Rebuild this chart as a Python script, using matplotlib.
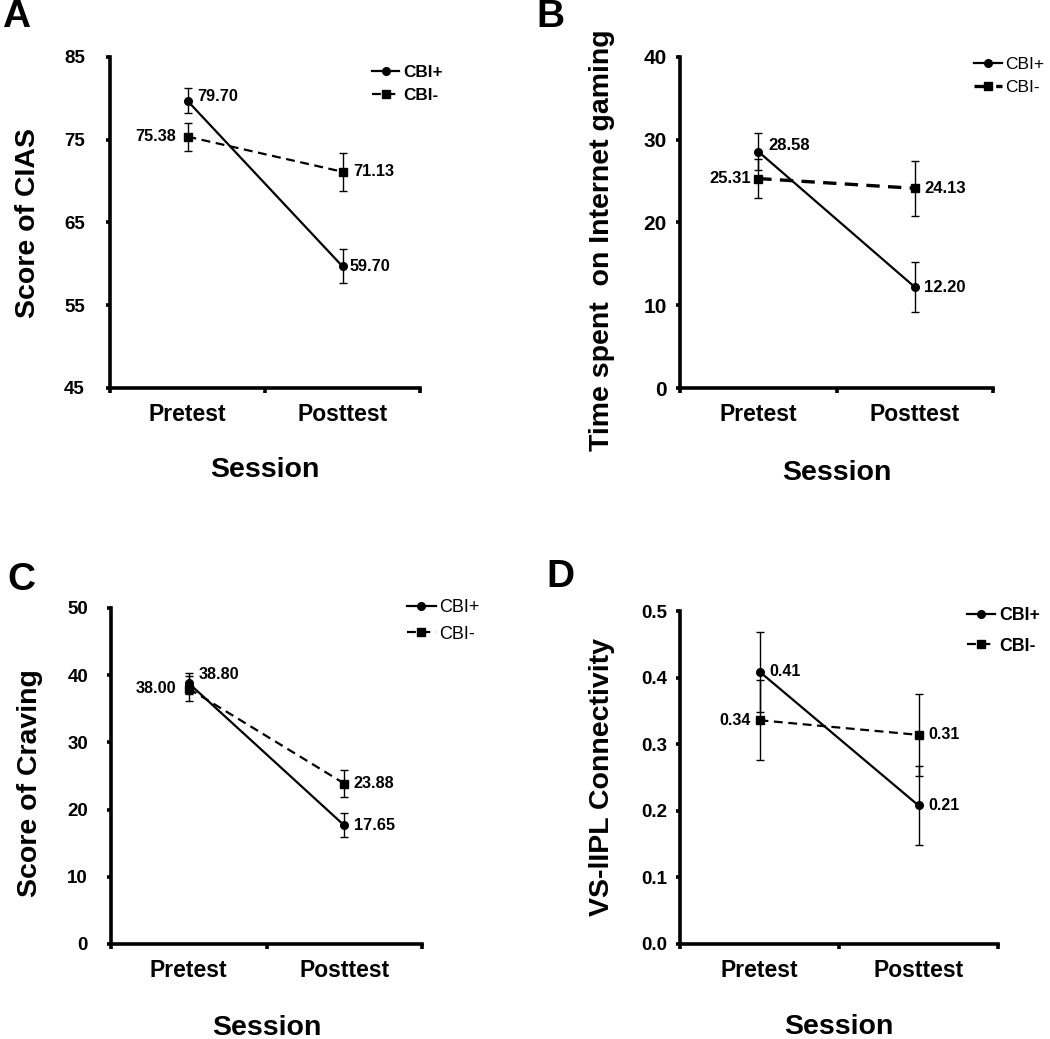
import matplotlib

matplotlib.use("Agg")
import matplotlib.pyplot as plt
import numpy as np

plt.rcParams["font.family"] = ["Liberation Sans", "DejaVu Sans"]

sessions = ["Pretest", "Posttest"]
groups = ["CBI+", "CBI-"]

# A: Score of CIAS
cias_plus = [79.70, 59.70]
cias_plus_err = [1.5, 2.05]
cias_minus = [75.38, 71.13]
cias_minus_err = [1.7, 2.3]

# B: Time spent on Internet gaming
time_plus = [28.58, 12.20]
time_plus_err = [2.2, 3.0]
time_minus = [25.31, 24.13]
time_minus_err = [2.35, 3.3]

# C: Score of Craving
crav_plus = [38.80, 17.65]
crav_plus_err = [1.6, 1.8]
crav_minus = [38.00, 23.88]
crav_minus_err = [1.9, 2.0]

# D: VS-lIPL connectivity
conn_plus = [0.409, 0.208]
conn_plus_err = [0.06, 0.06]
conn_minus = [0.336, 0.314]
conn_minus_err = [0.06, 0.062]
conn_plus_labels = ["0.41", "0.21"]
conn_minus_labels = ["0.34", "0.31"]

W, H = 1050, 1039


def px_rect(left, top, right, bottom):
    return [left / W, 1 - bottom / H, (right - left) / W, (bottom - top) / H]


def draw_panel(fig, p):
    ax = fig.add_axes(px_rect(*p["rect"]))
    x = np.array([0.5, 1.5])

    # error bars first, then lines with markers
    ax.errorbar(x, p["plus"], yerr=p["plus_err"], fmt="none", ecolor="black",
                elinewidth=1.0, capsize=3.2, capthick=1.0, zorder=3)
    ax.errorbar(x, p["minus"], yerr=p["minus_err"], fmt="none", ecolor="black",
                elinewidth=1.0, capsize=3.2, capthick=1.0, zorder=3)
    ax.plot(x, p["plus"], color="black", ls="-", lw=1.6, marker="o", ms=5.5,
            label=groups[0], zorder=4)
    ax.plot(x, p["minus"], color="black", ls=(0, (4, 2.5)), lw=p["dash_lw"],
            marker="s", ms=5.5, label=groups[1], zorder=4)

    # value labels next to the points
    for vals, labs, offs in ((p["plus"], p["plus_labels"], p["plus_off"]),
                             (p["minus"], p["minus_labels"], p["minus_off"])):
        for xi, v, lab, (dx, dy) in zip(x, vals, labs, offs):
            ax.annotate(lab, (xi, v), xytext=(dx, dy), textcoords="offset points",
                        ha="right" if dx < 0 else "left", va="center",
                        fontsize=p["val_fs"], fontweight="bold")

    ax.set_xlim(0, 2)
    ax.set_ylim(*p["ylim"])
    ax.set_yticks(p["yticks"])
    ax.set_yticklabels(p["yticklabels"])
    ax.set_xticks([0, 1, 2])
    ax.set_xticklabels([])
    ax.set_xticks(x, minor=True)
    ax.set_xticklabels(sessions, minor=True)

    for side in ("top", "right"):
        ax.spines[side].set_visible(False)
    for side in ("left", "bottom"):
        ax.spines[side].set_linewidth(2.6)

    ax.tick_params(axis="y", which="major", direction="out", length=3, width=2.6,
                   pad=p["ypad"], labelsize=p["ytick_fs"])
    ax.tick_params(axis="x", which="major", direction="out", length=3.5, width=2.6)
    ax.tick_params(axis="x", which="minor", length=0, pad=11, labelsize=16.5)
    for lab in ax.get_yticklabels() + ax.get_xticklabels(minor=True):
        lab.set_fontweight("bold")

    ax.set_xlabel("Session", fontsize=20.5, fontweight="bold")
    ax.xaxis.set_label_coords(0.5, p["xlab_y"])
    ax.xaxis.label.set_verticalalignment("center")
    ax.set_ylabel(p["ylabel"], fontsize=20.5, fontweight="bold")
    ax.yaxis.set_label_coords(p["ylab_x"], p["ylab_y"])
    ax.yaxis.label.set_verticalalignment("center")

    lx, ly = p["leg_xy"]
    ax.legend(loc="center left", bbox_to_anchor=(lx / W, 1 - ly / H),
              bbox_transform=fig.transFigure, frameon=False, numpoints=1,
              handlelength=1.6, handletextpad=0.2, borderpad=0, borderaxespad=0,
              labelspacing=p["leg_sp"],
              prop={"size": p["leg_fs"], "weight": p["leg_w"]})

    fx, fy = p["letter_xy"]
    fig.text(fx / W, 1 - fy / H, p["letter"], ha="center", va="center",
             fontsize=28, fontweight="bold")
    return ax


def main():
    fig = plt.figure(figsize=(W / 100, H / 100), dpi=100)

    panels = [
        dict(letter="A", letter_xy=(16, 17), rect=(110, 57, 420, 388),
             plus=cias_plus, plus_err=cias_plus_err,
             minus=cias_minus, minus_err=cias_minus_err,
             plus_labels=[f"{v:.2f}" for v in cias_plus],
             minus_labels=[f"{v:.2f}" for v in cias_minus],
             plus_off=[(7, 3), (5, 0)], minus_off=[(-8, 0), (8, 0)],
             ylim=(45, 85), yticks=[45, 55, 65, 75, 85],
             yticklabels=["45", "55", "65", "75", "85"],
             ypad=15, ytick_fs=13.5, val_fs=11.7, dash_lw=1.6,
             ylabel="Score of CIAS", ylab_x=-0.265, ylab_y=0.5, xlab_y=-0.248,
             leg_xy=(372, 84), leg_sp=0.45, leg_fs=12.3, leg_w="bold"),
        dict(letter="B", letter_xy=(550, 17), rect=(680, 57, 993, 388),
             plus=time_plus, plus_err=time_plus_err,
             minus=time_minus, minus_err=time_minus_err,
             plus_labels=[f"{v:.2f}" for v in time_plus],
             minus_labels=[f"{v:.2f}" for v in time_minus],
             plus_off=[(7, 4), (7, 0)], minus_off=[(-5, 0), (7, 0)],
             ylim=(0, 40), yticks=[0, 10, 20, 30, 40],
             yticklabels=["0", "10", "20", "30", "40"],
             ypad=6.5, ytick_fs=15, val_fs=12, dash_lw=2.4,
             ylabel="Time spent  on Internet gaming", ylab_x=-0.249, ylab_y=0.447,
             xlab_y=-0.257,
             leg_xy=(974, 76), leg_sp=0.5, leg_fs=12.5, leg_w="normal"),
        dict(letter="C", letter_xy=(21, 580), rect=(111, 608, 422, 944),
             plus=crav_plus, plus_err=crav_plus_err,
             minus=crav_minus, minus_err=crav_minus_err,
             plus_labels=[f"{v:.2f}" for v in crav_plus],
             minus_labels=[f"{v:.2f}" for v in crav_minus],
             plus_off=[(7, 6), (7, 0)], minus_off=[(-9, 0), (7, 0)],
             ylim=(0, 50), yticks=[0, 10, 20, 30, 40, 50],
             yticklabels=["0", "10", "20", "30", "40", "50"],
             ypad=13.5, ytick_fs=13.5, val_fs=11.7, dash_lw=1.6,
             ylabel="Score of Craving", ylab_x=-0.26, ylab_y=0.48, xlab_y=-0.25,
             leg_xy=(407, 621), leg_sp=0.5, leg_fs=13, leg_w="normal"),
        dict(letter="D", letter_xy=(560, 577), rect=(680, 611, 998, 944),
             plus=conn_plus, plus_err=conn_plus_err,
             minus=conn_minus, minus_err=conn_minus_err,
             plus_labels=conn_plus_labels, minus_labels=conn_minus_labels,
             plus_off=[(7, 0), (7, 0)], minus_off=[(-6.5, 0), (7, 0)],
             ylim=(0, 0.5), yticks=[0, 0.1, 0.2, 0.3, 0.4, 0.5],
             yticklabels=["0.0", "0.1", "0.2", "0.3", "0.4", "0.5"],
             ypad=6.5, ytick_fs=13.5, val_fs=11.5, dash_lw=1.6,
             ylabel="VS-lIPL Connectivity", ylab_x=-0.245, ylab_y=0.5,
             xlab_y=-0.25,
             leg_xy=(967, 631), leg_sp=0.75, leg_fs=12.8, leg_w="bold"),
    ]

    for p in panels:
        draw_panel(fig, p)

    fig.savefig("out.png", dpi=100, facecolor="white")


if __name__ == "__main__":
    main()
